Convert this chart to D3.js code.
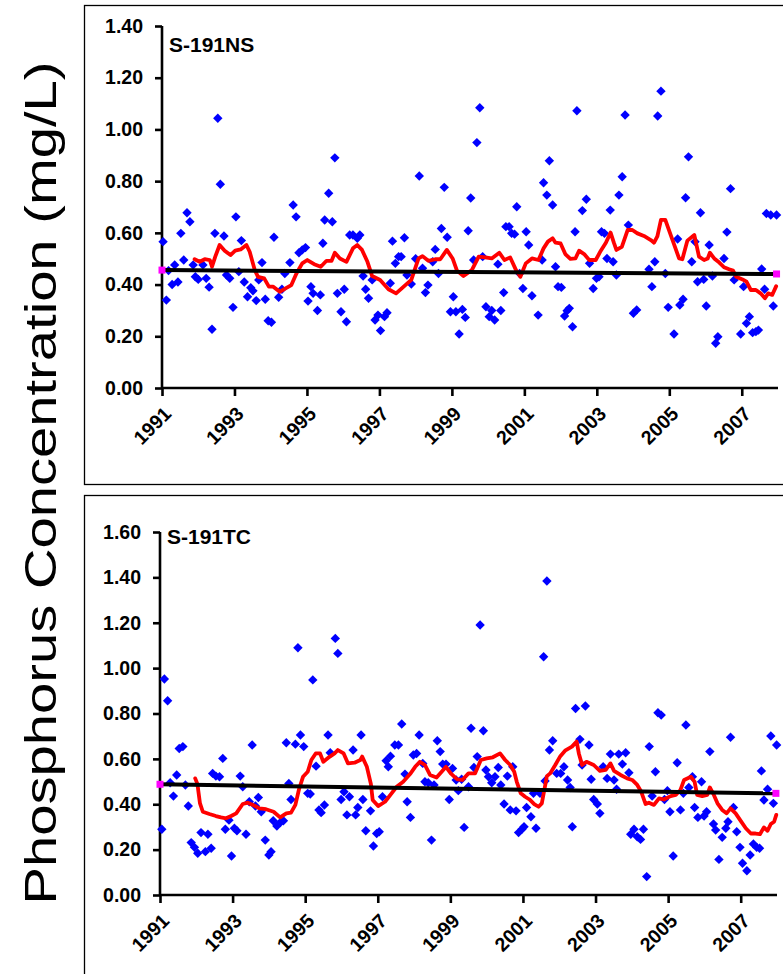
<!DOCTYPE html>
<html><head><meta charset="utf-8">
<script src="https://cdn.jsdelivr.net/npm/d3@7"></script>
<style>
html,body{margin:0;padding:0;background:#fff;}
svg{display:block;}
text{font-family:"Liberation Sans",Arial,sans-serif;}
</style></head>
<body>
<svg id="c" width="783" height="974"></svg>
<script>
// ---------------- DATA ----------------
const yTitle = "Phosphorus Concentration (mg/L)";
const stations = ["S-191NS", "S-191TC"];
const xTickYears = [1991,1993,1995,1997,1999,2001,2003,2005,2007];
const nsYTicks = [0,0.2,0.4,0.6,0.8,1.0,1.2,1.4];
const tcYTicks = [0,0.2,0.4,0.6,0.8,1.0,1.2,1.4,1.6];

// S-191NS samples [decimal year, mg/L]
const nsSamples = [
[1991.03,.566],[1991.12,.34],[1991.18,.454],[1991.28,.40],[1991.35,.476],[1991.44,.41],[1991.52,.598],[1991.60,.495],[1991.69,.678],[1991.77,.643],[1991.86,.476],[1991.92,.43],
[1992.00,.42],[1992.13,.476],[1992.22,.424],[1992.30,.39],[1992.38,.227],[1992.46,.598],[1992.54,1.043],[1992.61,.788],[1992.71,.588],[1992.78,.437],[1992.87,.424],[1992.96,.312],
[1993.04,.662],[1993.12,.45],[1993.19,.57],[1993.27,.41],[1993.36,.353],[1993.45,.388],[1993.51,.376],[1993.60,.338],[1993.67,.418],[1993.76,.485],[1993.85,.343],[1993.93,.26],
[1994.02,.254],[1994.09,.583],[1994.22,.351],[1994.31,.382],[1994.39,.443],[1994.53,.485],[1994.62,.708],[1994.70,.662],[1994.78,.523],[1994.87,.534],[1994.96,.543],
[1995.03,.336],[1995.11,.392],[1995.17,.366],[1995.29,.30],[1995.37,.36],[1995.44,.56],[1995.49,.65],[1995.60,.753],[1995.70,.643],[1995.77,.89],[1995.84,.366],[1995.94,.295],
[1996.03,.382],[1996.09,.256],[1996.18,.592],[1996.27,.592],[1996.39,.579],[1996.46,.592],[1996.55,.433],[1996.62,.382],[1996.70,.347],[1996.80,.418],[1996.88,.263],[1996.96,.282],
[1997.03,.222],[1997.14,.276],[1997.21,.291],[1997.30,.405],[1997.36,.568],[1997.44,.482],[1997.53,.508],[1997.60,.508],[1997.69,.581],[1997.76,.437],[1997.88,.402],
[1998.00,.50],[1998.10,.82],[1998.19,.463],[1998.27,.369],[1998.34,.398],[1998.47,.488],[1998.54,.536],[1998.63,.443],[1998.71,.617],[1998.79,.776],[1998.87,.583],[1998.96,.295],
[1999.04,.353],[1999.11,.295],[1999.20,.209],[1999.29,.304],[1999.37,.273],[1999.45,.608],[1999.52,.735],[1999.60,.495],[1999.69,.949],[1999.77,1.084],[1999.85,.508],[1999.94,.314],
[2000.03,.276],[2000.10,.30],[2000.18,.263],[2000.27,.479],[2000.35,.30],[2000.43,.369],[2000.49,.624],[2000.58,.624],[2000.65,.598],[2000.73,.595],[2000.79,.701],[2000.87,.443],[2000.96,.385],
[2001.05,.604],[2001.12,.553],[2001.21,.357],[2001.38,.282],[2001.49,.495],[2001.53,.794],[2001.62,.746],[2001.69,.879],[2001.78,.708],[2001.86,.469],[2001.93,.392],
[2002.02,.389],[2002.11,.278],[2002.18,.299],[2002.24,.308],[2002.33,.237],[2002.40,.604],[2002.45,1.072],[2002.60,.686],[2002.71,.73],[2002.80,.482],[2002.90,.385],[2002.99,.424],
[2003.06,.43],[2003.13,.604],[2003.21,.598],[2003.28,.501],[2003.37,.688],[2003.45,.488],[2003.54,.437],[2003.61,.746],[2003.70,.817],[2003.78,1.056],[2003.87,.63],
[2004.01,.289],[2004.10,.302],[2004.44,.459],[2004.52,.392],[2004.60,.488],[2004.68,1.052],[2004.77,1.148],[2004.89,.443],[2004.97,.312],
[2005.13,.209],[2005.23,.576],[2005.29,.321],[2005.38,.343],[2005.45,.736],[2005.53,.894],[2005.62,.488],[2005.71,.566],[2005.78,.411],[2005.86,.678],[2005.95,.42],
[2006.02,.317],[2006.10,.553],[2006.19,.433],[2006.28,.173],[2006.34,.198],[2006.51,.501],[2006.59,.603],[2006.69,.771],[2006.79,.418],[2006.97,.209],
[2007.05,.392],[2007.13,.25],[2007.21,.276],[2007.30,.214],[2007.39,.218],[2007.46,.224],[2007.55,.46],[2007.63,.382],[2007.68,.675],[2007.80,.669],[2007.87,.317],[2007.96,.669]
];
// S-191NS moving average
const nsMovingAvg = [
[1991.90,.498],[1992.04,.488],[1992.18,.498],[1992.32,.495],[1992.38,.469],[1992.47,.508],[1992.59,.553],[1992.73,.531],[1992.89,.514],[1993.02,.531],[1993.17,.536],[1993.33,.553],
[1993.42,.527],[1993.56,.456],[1993.65,.43],[1993.82,.424],[1993.95,.392],[1994.07,.392],[1994.25,.372],[1994.41,.385],[1994.57,.398],[1994.71,.443],[1994.87,.482],[1995.01,.495],
[1995.20,.479],[1995.38,.469],[1995.54,.492],[1995.68,.492],[1995.77,.523],[1995.91,.501],[1996.09,.488],[1996.27,.54],[1996.39,.553],[1996.52,.534],[1996.67,.488],[1996.80,.433],
[1997.02,.418],[1997.25,.382],[1997.46,.366],[1997.67,.392],[1997.88,.418],[1998.08,.501],[1998.19,.51],[1998.35,.492],[1998.54,.498],[1998.68,.498],[1998.86,.534],[1999.02,.501],
[1999.14,.454],[1999.32,.433],[1999.55,.456],[1999.74,.508],[1999.92,.505],[2000.10,.501],[2000.31,.523],[2000.45,.495],[2000.61,.505],[2000.77,.456],[2000.89,.43],[2001.04,.482],
[2001.21,.501],[2001.39,.495],[2001.53,.54],[2001.65,.566],[2001.78,.579],[2001.86,.562],[2002.00,.559],[2002.13,.518],[2002.27,.499],[2002.41,.501],[2002.51,.531],[2002.65,.518],
[2002.79,.495],[2002.97,.495],[2003.11,.531],[2003.25,.562],[2003.38,.601],[2003.47,.562],[2003.54,.534],[2003.69,.546],[2003.85,.611],[2003.98,.611],[2004.12,.598],[2004.30,.588],
[2004.49,.572],[2004.58,.562],[2004.67,.586],[2004.77,.65],[2004.89,.65],[2005.09,.572],[2005.27,.501],[2005.36,.498],[2005.50,.57],[2005.69,.592],[2005.82,.508],[2005.96,.495],
[2006.06,.501],[2006.12,.523],[2006.24,.501],[2006.38,.485],[2006.51,.467],[2006.65,.459],[2006.76,.454],[2006.85,.43],[2007.02,.42],[2007.13,.411],[2007.25,.379],[2007.39,.379],
[2007.52,.366],[2007.64,.347],[2007.73,.366],[2007.84,.36],[2007.95,.394]
];
const nsTrend = [[1991.0,.456],[2007.96,.441]];

// S-191TC samples
const tcSamples = [
[1991.05,.29],[1991.12,.952],[1991.21,.856],[1991.28,.495],[1991.37,.436],[1991.46,.529],[1991.53,.646],[1991.63,.654],[1991.70,.485],[1991.78,.392],[1991.86,.231],[1991.95,.21],
[1992.04,.184],[1992.13,.275],[1992.25,.191],[1992.32,.268],[1992.41,.206],[1992.45,.536],[1992.54,.524],[1992.64,.521],[1992.73,.602],[1992.80,.29],[1992.90,.33],[1992.97,.172],
[1993.05,.294],[1993.12,.283],[1993.21,.524],[1993.28,.477],[1993.37,.268],[1993.46,.411],[1993.54,.661],[1993.63,.392],[1993.71,.43],[1993.79,.367],[1993.90,.242],
[1994.00,.176],[1994.06,.191],[1994.12,.327],[1994.22,.304],[1994.31,.319],[1994.40,.327],[1994.48,.671],[1994.55,.492],[1994.61,.421],[1994.73,.665],[1994.80,1.09],[1994.87,.705],[1994.96,.654],
[1995.07,.448],[1995.14,.445],[1995.21,.948],[1995.30,.568],[1995.38,.375],[1995.44,.363],[1995.53,.397],[1995.63,.705],[1995.69,.627],[1995.83,1.131],[1995.90,1.065],[1995.99,.421],
[1996.07,.455],[1996.15,.353],[1996.22,.433],[1996.32,.639],[1996.39,.353],[1996.45,.386],[1996.54,.705],[1996.59,.421],[1996.67,.283],[1996.80,.371],[1996.88,.216],[1996.97,.271],
[1997.04,.279],[1997.13,.433],[1997.23,.592],[1997.29,.565],[1997.35,.612],[1997.47,.661],[1997.57,.661],[1997.66,.754],[1997.75,.533],[1997.81,.411],[1997.90,.342],[1997.98,.617],
[1998.07,.624],[1998.14,.705],[1998.24,.58],[1998.30,.499],[1998.39,.495],[1998.48,.242],[1998.55,.485],[1998.64,.68],[1998.72,.632],[1998.79,.577],[1998.88,.577],[1998.97,.421],
[1999.06,.558],[1999.16,.507],[1999.22,.46],[1999.31,.51],[1999.38,.298],[1999.50,.477],[1999.57,.735],[1999.65,.562],[1999.74,.61],[1999.82,1.19],[1999.91,.724],[1999.98,.551],
[2000.05,.521],[2000.14,.495],[2000.23,.521],[2000.32,.562],[2000.39,.485],[2000.48,.401],[2000.57,.524],[2000.65,.375],[2000.72,.565],[2000.81,.371],[2000.88,.275],[2000.97,.29],
[2001.03,.301],[2001.10,.386],[2001.22,.345],[2001.29,.448],[2001.36,.294],[2001.47,.448],[2001.57,1.05],[2001.61,.503],[2001.66,1.384],[2001.73,.639],[2001.82,.68],[2001.93,.536],
[2002.04,.536],[2002.13,.565],[2002.23,.507],[2002.30,.474],[2002.36,.301],[2002.45,.822],[2002.57,.686],[2002.63,.573],[2002.72,.833],[2002.82,.661],[2002.88,.51],[2002.95,.421],
[2003.05,.401],[2003.12,.36],[2003.21,.565],[2003.32,.514],[2003.41,.621],[2003.51,.507],[2003.58,.466],[2003.64,.621],[2003.74,.577],[2003.83,.627],[2003.92,.539],[2003.97,.268],
[2004.06,.29],[2004.15,.257],[2004.24,.245],[2004.32,.29],[2004.41,.081],[2004.48,.654],[2004.56,.436],[2004.65,.543],[2004.72,.803],[2004.81,.793],[2004.90,.421],[2004.98,.46],
[2005.05,.367],[2005.14,.172],[2005.25,.583],[2005.34,.375],[2005.42,.448],[2005.49,.749],[2005.57,.474],[2005.67,.521],[2005.73,.386],[2005.82,.342],[2005.92,.499],[2005.99,.348],
[2006.06,.367],[2006.15,.632],[2006.25,.313],[2006.31,.286],[2006.40,.157],[2006.49,.254],[2006.59,.294],[2006.65,.323],[2006.72,.695],[2006.80,.386],[2006.89,.279],[2006.98,.21],
[2007.05,.14],[2007.17,.107],[2007.26,.176],[2007.35,.225],[2007.44,.21],[2007.52,.206],[2007.57,.547],[2007.64,.419],[2007.74,.466],[2007.83,.701],[2007.90,.404],[2007.99,.661]
];
const tcMovingAvg = [
[1991.97,.514],[1992.03,.49],[1992.10,.405],[1992.18,.367],[1992.36,.357],[1992.54,.348],[1992.68,.342],[1992.82,.338],[1992.96,.348],[1993.10,.36],[1993.28,.401],[1993.42,.407],
[1993.56,.397],[1993.74,.382],[1993.92,.378],[1994.13,.367],[1994.31,.342],[1994.48,.36],[1994.61,.363],[1994.73,.397],[1994.83,.466],[1994.94,.521],[1995.07,.543],[1995.17,.595],
[1995.29,.624],[1995.41,.624],[1995.50,.587],[1995.67,.609],[1995.81,.624],[1995.90,.639],[1996.06,.624],[1996.18,.58],[1996.36,.583],[1996.52,.595],[1996.57,.61],[1996.70,.565],
[1996.81,.49],[1996.86,.419],[1997.01,.392],[1997.20,.411],[1997.38,.448],[1997.52,.477],[1997.70,.499],[1997.89,.533],[1998.03,.565],[1998.16,.587],[1998.30,.573],[1998.44,.529],
[1998.62,.518],[1998.76,.543],[1998.88,.565],[1999.01,.536],[1999.19,.51],[1999.33,.507],[1999.50,.536],[1999.68,.536],[1999.84,.595],[2000.00,.602],[2000.17,.607],[2000.37,.624],
[2000.51,.595],[2000.65,.573],[2000.76,.543],[2000.83,.499],[2000.94,.448],[2001.06,.433],[2001.18,.421],[2001.31,.401],[2001.43,.389],[2001.52,.404],[2001.58,.455],[2001.66,.524],
[2001.75,.536],[2001.89,.573],[2002.03,.612],[2002.16,.636],[2002.35,.654],[2002.48,.676],[2002.54,.624],[2002.63,.573],[2002.75,.587],[2002.95,.573],[2003.12,.547],[2003.28,.551],
[2003.41,.58],[2003.51,.547],[2003.69,.529],[2003.87,.514],[2004.01,.507],[2004.15,.485],[2004.26,.455],[2004.38,.401],[2004.47,.407],[2004.61,.397],[2004.75,.426],[2004.88,.421],
[2005.07,.436],[2005.21,.441],[2005.34,.463],[2005.44,.507],[2005.63,.521],[2005.73,.499],[2005.80,.441],[2005.94,.436],[2006.08,.441],[2006.15,.474],[2006.26,.441],[2006.36,.404],
[2006.49,.375],[2006.61,.36],[2006.72,.382],[2006.86,.36],[2007.00,.327],[2007.14,.294],[2007.28,.271],[2007.41,.271],[2007.53,.268],[2007.64,.298],[2007.74,.283],[2007.83,.313],
[2007.92,.323],[2007.98,.353]
];
const tcTrend = [[1991.0,.488],[2007.97,.448]];

// ---------------- DRAW ----------------
const svg = d3.select("#c");

const panels = [
  {name: stations[0], samples: nsSamples, ma: nsMovingAvg, trend: nsTrend, ticks: nsYTicks,
   frame: [84.5, 5.5, 740, 479], xr: [162, 778], yr: [388, 26], ymax: 1.4, labelY: 52},
  {name: stations[1], samples: tcSamples, ma: tcMovingAvg, trend: tcTrend, ticks: tcYTicks,
   frame: [84.5, 495.5, 740, 500], xr: [160, 777], yr: [895, 532], ymax: 1.6, labelY: 544}
];

panels.forEach(p => {
  const g = svg.append("g");
  g.append("rect").attr("x", p.frame[0]).attr("y", p.frame[1])
    .attr("width", p.frame[2]).attr("height", p.frame[3])
    .attr("fill", "#fff").attr("stroke", "#000").attr("stroke-width", 1.3);

  const x = d3.scaleLinear().domain([1991, 2008]).range(p.xr);
  const y = d3.scaleLinear().domain([0, p.ymax]).range(p.yr);

  // y axis
  const ya = g.append("g").attr("transform", `translate(${p.xr[0]},0)`)
    .call(d3.axisLeft(y).tickValues(p.ticks).tickFormat(d3.format(".2f")).tickSize(7).tickPadding(12));
  ya.select(".domain").attr("stroke", "#000").attr("stroke-width", 2.6).attr("d", `M0,${p.yr[0]}V${p.yr[1]}`);
  ya.selectAll(".tick line").attr("stroke", "#000").attr("stroke-width", 2.6);
  ya.selectAll(".tick text").attr("font-size", 19.5).attr("font-weight", "bold")
    .attr("font-family", "Liberation Sans, Arial, sans-serif").attr("fill", "#000");

  // x axis
  const xa = g.append("g").attr("transform", `translate(0,${p.yr[0]})`)
    .call(d3.axisBottom(x).tickValues(xTickYears).tickFormat(d3.format("d")).tickSize(8));
  xa.select(".domain").attr("stroke", "#000").attr("stroke-width", 2.6).attr("d", `M${p.xr[0]},0H${p.xr[1]}`);
  xa.selectAll(".tick line").attr("stroke", "#000").attr("stroke-width", 2.6);
  xa.selectAll(".tick text")
    .attr("font-size", 19.5).attr("font-weight", "bold")
    .attr("font-family", "Liberation Sans, Arial, sans-serif").attr("fill", "#000")
    .attr("text-anchor", "end").attr("y", 0).attr("dy", 0)
    .attr("transform", "translate(10,27) rotate(-45)");

  // station label
  g.append("text").attr("x", p.xr[0] + 7).attr("y", p.labelY)
    .attr("font-size", 21).attr("font-weight", "bold").text(p.name);

  // samples: blue diamonds
  const r = 4.7;
  g.append("g").selectAll("path").data(p.samples).join("path")
    .attr("d", d => {
      const cx = x(d[0]), cy = y(d[1]);
      return `M${cx},${cy - r}L${cx + r},${cy}L${cx},${cy + r}L${cx - r},${cy}Z`;
    })
    .attr("fill", "#0000FF");

  // moving average: red
  g.append("path").datum(p.ma)
    .attr("d", d3.line().x(d => x(d[0])).y(d => y(d[1])))
    .attr("fill", "none").attr("stroke", "#FF0000").attr("stroke-width", 3.8)
    .attr("stroke-linejoin", "round").attr("stroke-linecap", "round");

  // linear trend: black
  g.append("path").datum(p.trend)
    .attr("d", d3.line().x(d => x(d[0])).y(d => y(d[1])))
    .attr("fill", "none").attr("stroke", "#000").attr("stroke-width", 4);

  // magenta end markers
  g.append("g").selectAll("rect").data(p.trend).join("rect")
    .attr("x", d => x(d[0]) - 3.5).attr("y", d => y(d[1]) - 3.5)
    .attr("width", 7).attr("height", 7).attr("fill", "#FF00FF");
});

// y title
svg.append("text")
  .attr("transform", "translate(56,483) rotate(-90)")
  .attr("text-anchor", "middle")
  .attr("font-size", 44)
  .attr("textLength", 843).attr("lengthAdjust", "spacingAndGlyphs")
  .attr("fill", "#000")
  .text(yTitle);
</script>
</body></html>
